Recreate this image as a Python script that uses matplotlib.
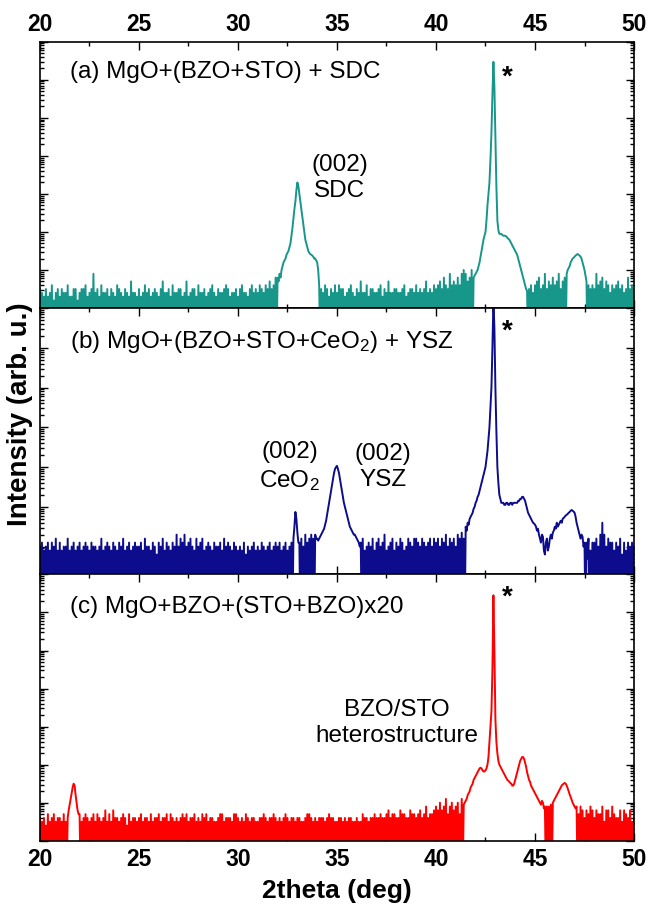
import numpy as np
import matplotlib
matplotlib.use("Agg")
import matplotlib.pyplot as plt

plt.rcParams["font.family"] = ["Liberation Sans", "DejaVu Sans"]
plt.rcParams["mathtext.fontset"] = "custom"
plt.rcParams["mathtext.rm"] = "Liberation Sans"
plt.rcParams["mathtext.default"] = "regular"

# 2theta sampling, 20..50 deg in 0.05 deg steps
two_theta = np.linspace(20.0, 50.0, 601)

# log10(intensity), one row per degree (-1 = zero counts, below axis)
log_a = [
    0.5, -1, 0.4, -1, 0.3, -1, 0.5, -1, 0.3, -1, 0.4, -1, 0.6, -1, 0.2, -1, 0.4, -1, 0.5, -1,
    0.3, -1, 0.5, -1, 0.4, -1, 0.4, -1, 0.6, -1, 0.3, -1, 0.3, -1, 0.5, -1, 0.5, -1, 0.2, -1,
    0.4, -1, 0.5, -1, 0.5, -1, 0.6, -1, 0.3, -1, 0.4, -1, 0.5, -1, 0.9, -1, 0.4, -1, 0.5, -1,
    0.3, -1, 0.6, -1, 0.4, -1, 0.4, -1, 0.5, -1, 0.3, -1, 0.5, -1, 0.4, -1, 0.3, -1, 0.6, -1,
    0.5, -1, 0.4, -1, 0.3, -1, 0.5, -1, 0.4, -1, 0.3, -1, 0.7, -1, 0.4, -1, 0.4, -1, 0.3, -1,
    0.5, -1, 0.3, -1, 0.4, -1, 0.6, -1, 0.4, -1, 0.5, -1, 0.3, -1, 0.4, -1, 0.5, -1, 0.4, -1,
    0.3, -1, 0.5, -1, 0.7, -1, 0.4, -1, 0.4, -1, 0.5, -1, 0.3, -1, 0.6, -1, 0.4, -1, 0.4, -1,
    0.5, -1, 0.5, -1, 0.3, -1, 0.4, -1, 0.7, -1, 0.3, -1, 0.4, -1, 0.5, -1, 0.5, -1, 0.3, -1,
    0.6, -1, 0.4, -1, 0.4, -1, 0.5, -1, 0.3, -1, 0.4, -1, 0.5, -1, 0.6, -1, 0.4, -1, 0.3, -1,
    0.5, -1, 0.4, -1, 0.4, -1, 0.5, -1, 0.6, -1, 0.5, -1, 0.3, -1, 0.4, -1, 0.4, -1, 0.5, -1,
    0.3, -1, 0.5, -1, 0.6, -1, 0.4, -1, 0.4, -1, 0.3, -1, 0.5, -1, 0.6, -1, 0.4, -1, 0.5, -1,
    0.4, -1, 0.6, -1, 0.5, -1, 0.4, -1, 0.6, -1, 0.5, -1, 0.7, -1, 0.5, -1, 0.6, -1, 0.8, -1,
    0.8, 0.7, 0.9, 0.8, 1.0, 1.1, 1.2, 1.25, 1.3, 1.4, 1.45, 1.5, 1.6, 1.7, 1.9, 2.1, 2.35, 2.6, 2.8, 3.1,
    3.3, 3.2, 3.0, 2.8, 2.6, 2.4, 2.2, 2.0, 1.8, 1.7, 1.6, 1.5, 1.45, 1.42, 1.4, 1.38, 1.35, 1.3, 1.3, 1.25,
    1.2, 1.0, 0.6, -1, 0.5, -1, 0.4, -1, 0.6, -1, 0.5, -1, 0.3, -1, 0.5, -1, 0.4, -1, 0.6, -1,
    0.4, -1, 0.6, -1, 0.5, -1, 0.5, -1, 0.3, -1, 0.4, -1, 0.5, -1, 0.6, -1, 0.4, -1, 0.3, -1,
    0.5, -1, 0.4, -1, 0.7, -1, 0.4, -1, 0.4, -1, 0.6, -1, 0.3, -1, 0.5, -1, 0.5, -1, 0.4, -1,
    0.4, -1, 0.5, -1, 0.6, -1, 0.3, -1, 0.5, -1, 0.4, -1, 0.7, -1, 0.4, -1, 0.4, -1, 0.5, -1,
    0.5, -1, 0.4, -1, 0.4, -1, 0.5, -1, 0.6, -1, 0.3, -1, 0.4, -1, 0.5, -1, 0.5, -1, 0.4, -1,
    0.6, -1, 0.4, -1, 0.5, -1, 0.4, -1, 0.5, -1, 0.7, -1, 0.4, -1, 0.5, -1, 0.4, -1, 0.6, -1,
    0.5, -1, 0.6, -1, 0.7, -1, 0.5, -1, 0.8, -1, 0.6, -1, 0.5, -1, 0.9, -1, 0.6, -1, 0.7, -1,
    0.6, -1, 0.8, -1, 0.6, -1, 0.9, -1, 1.0, -1, 0.9, -1, 0.7, -1, 0.8, -1, 1.0, -1, 0.8, 0.85,
    0.9, 0.95, 1.0, 1.1, 1.2, 1.35, 1.5, 1.65, 1.8, 1.9, 2.0, 2.3, 2.7, 3.0, 3.3, 3.9, 4.6, 5.6, 6.47, 5.8,
    4.5, 3.2, 2.3, 2.05, 1.95, 1.95, 1.95, 1.92, 1.9, 1.9, 1.9, 1.88, 1.85, 1.82, 1.8, 1.75, 1.7, 1.65, 1.6, 1.55,
    1.5, 1.45, 1.4, 1.3, 1.2, 1.1, 1.0, 0.9, 0.8, 0.7, 0.6, 0.5, 0.45, -1, 0.5, -1, 0.6, -1, 0.4, -1,
    0.6, -1, 0.7, -1, 0.8, -1, 0.5, -1, 0.6, -1, 0.9, -1, 0.5, -1, 0.7, -1, 0.6, -1, 0.8, -1,
    0.6, -1, 0.7, -1, 0.9, -1, 0.5, -1, 0.7, -1, 0.8, -1, 0.9, 1.0, 1.05, 1.1, 1.2, 1.25, 1.3, 1.32,
    1.35, 1.38, 1.4, 1.42, 1.4, 1.38, 1.35, 1.3, 1.2, 1.1, 1.0, 0.85, 0.7, -1, 0.6, -1, 0.5, -1, 0.6, -1,
    0.5, -1, 0.9, -1, 0.6, -1, 0.7, -1, 0.8, -1, 0.5, -1, 0.7, -1, 0.6, -1, 0.4, -1, 0.6, -1,
    0.5, -1, 0.6, -1, 0.7, -1, 0.5, -1, 0.6, -1, 0.4, -1, 0.5, -1, 0.8, -1, 0.5, -1, 0.6, -1,
    0.5,
]

log_b = [
    1.0, -1, 1.1, -1, 0.9, -1, 1.0, -1, 1.1, -1, 0.9, -1, 1.1, -1, 1.0, -1, 1.2, -1, 0.9, -1,
    1.1, -1, 0.9, -1, 1.0, -1, 1.0, -1, 1.2, -1, 0.9, -1, 1.0, -1, 1.1, -1, 0.9, -1, 1.0, -1,
    1.1, -1, 0.9, -1, 1.0, -1, 1.1, -1, 1.0, -1, 0.9, -1, 1.1, -1, 1.0, -1, 1.0, -1, 0.9, -1,
    1.0, -1, 1.2, -1, 0.9, -1, 1.0, -1, 1.1, -1, 1.0, -1, 0.9, -1, 1.1, -1, 1.0, -1, 0.9, -1,
    1.1, -1, 1.0, -1, 1.2, -1, 0.9, -1, 1.0, -1, 1.1, -1, 0.9, -1, 1.0, -1, 1.1, -1, 1.0, -1,
    1.0, -1, 1.1, -1, 0.9, -1, 1.2, -1, 1.0, -1, 1.0, -1, 0.9, -1, 1.1, -1, 1.0, -1, 0.8, -1,
    1.1, -1, 1.0, -1, 1.2, -1, 0.9, -1, 1.1, -1, 1.0, -1, 0.9, -1, 1.1, -1, 1.0, -1, 1.3, -1,
    1.0, -1, 1.2, -1, 1.1, -1, 1.3, -1, 1.0, -1, 1.1, -1, 1.2, -1, 1.0, -1, 0.9, -1, 1.2, -1,
    1.0, -1, 1.1, -1, 1.2, -1, 0.9, -1, 1.0, -1, 1.1, -1, 1.0, -1, 0.9, -1, 1.1, -1, 1.0, -1,
    1.0, -1, 1.1, -1, 0.9, -1, 1.2, -1, 1.0, -1, 1.1, -1, 1.0, -1, 0.9, -1, 1.1, -1, 1.0, -1,
    0.9, -1, 1.0, -1, 0.9, -1, 1.1, -1, 0.8, -1, 1.0, -1, 0.9, -1, 1.0, -1, 1.1, -1, 0.9, -1,
    1.0, -1, 0.9, -1, 1.1, -1, 1.0, -1, 0.9, -1, 1.0, -1, 1.1, -1, 0.9, -1, 1.0, -1, 1.1, -1,
    1.0, -1, 1.1, -1, 0.9, -1, 1.0, -1, 1.1, -1, 0.9, -1, 1.0, -1, 1.1, -1, 1.2, 1.5, 1.87, 1.7,
    1.35, 1.1, 1.1, -1, 1.2, -1, 1.0, -1, 1.3, -1, 1.1, -1, 1.2, -1, 1.3, -1, 1.2, -1, 1.3, 1.2,
    1.2, 1.15, 1.2, 1.25, 1.3, 1.35, 1.4, 1.45, 1.55, 1.65, 1.8, 1.95, 2.1, 2.25, 2.4, 2.55, 2.7, 2.85, 2.95, 3.0,
    3.03, 2.95, 2.85, 2.7, 2.55, 2.4, 2.25, 2.1, 2.0, 1.9, 1.8, 1.7, 1.6, 1.5, 1.45, 1.4, 1.35, 1.3, 1.3, 1.25,
    1.2, 1.15, 1.1, 1.0, 1.1, -1, 1.2, -1, 0.9, -1, 1.0, -1, 1.1, -1, 1.0, -1, 1.2, -1, 0.9, -1,
    1.1, -1, 1.2, -1, 1.0, -1, 1.1, -1, 1.3, -1, 0.9, -1, 1.0, -1, 1.1, -1, 1.2, -1, 0.9, -1,
    1.1, -1, 1.0, -1, 1.2, -1, 1.1, -1, 0.9, -1, 1.0, -1, 1.2, -1, 1.1, -1, 1.0, -1, 1.2, -1,
    1.2, -1, 1.1, -1, 1.0, -1, 1.2, -1, 1.1, -1, 1.0, -1, 1.1, -1, 1.2, -1, 1.0, -1, 1.2, -1,
    1.1, -1, 1.2, -1, 1.0, -1, 1.2, -1, 1.1, -1, 1.3, -1, 1.0, -1, 1.2, -1, 1.1, -1, 1.2, -1,
    1.0, -1, 1.3, -1, 1.2, -1, 1.35, -1, 1.2, -1, 1.5, 1.4, 1.6, 1.55, 1.7, 1.75, 1.8, 1.85, 1.95, 2.0,
    2.1, 2.15, 2.25, 2.3, 2.4, 2.5, 2.6, 2.7, 2.8, 2.9, 3.0, 3.2, 3.4, 3.7, 4.0, 4.5, 5.0, 6.0, 7.2, 6.5,
    5.0, 3.9, 3.0, 2.6, 2.3, 2.2, 2.1, 2.1, 2.1, 2.05, 2.05, 2.1, 2.1, 2.05, 2.05, 2.1, 2.1, 2.05, 2.1, 2.1,
    2.1, 2.1, 2.1, 2.15, 2.15, 2.2, 2.2, 2.25, 2.25, 2.2, 2.15, 2.05, 1.95, 1.85, 1.8, 1.75, 1.7, 1.65, 1.6, 1.58,
    1.55, 1.5, 1.4, 1.45, 1.3, 1.2, 1.1, 1.3, 1.25, 0.9, 0.8, 1.1, 1.2, 0.9, 1.0, 1.2, 1.3, 1.2, 1.35, 1.4,
    1.5, 1.45, 1.6, 1.5, 1.55, 1.6, 1.65, 1.6, 1.7, 1.72, 1.75, 1.78, 1.8, 1.82, 1.85, 1.87, 1.9, 1.92, 1.9, 1.88,
    1.85, 1.75, 1.6, 1.5, 1.4, 1.3, 1.2, 1.3, 1.25, 1.0, 1.1, -1, 1.1, 0.7, 1.2, -1, 0.9, -1, 1.1, -1,
    1.1, -1, 1.2, -1, 1.0, -1, 1.3, -1, 1.6, -1, 1.3, -1, 1.0, -1, 1.2, -1, 1.1, -1, 1.1, -1,
    0.9, -1, 1.1, -1, 1.0, -1, 1.2, -1, 0.8, -1, 1.1, -1, 0.9, -1, 1.1, -1, 1.0, -1, 1.1, -1,
    1.0,
]

log_c = [
    0.6, -1, 0.5, -1, 0.6, -1, 0.4, -1, 0.7, -1, 0.5, -1, 0.6, -1, 0.7, -1, 0.5, -1, 0.6, -1,
    0.6, -1, 0.5, -1, 0.7, -1, 0.5, -1, 0.6, 0.8, 0.95, 1.1, 1.25, 1.4, 1.5, 1.45, 1.2, 1.0, 0.8, 0.7,
    0.7, -1, 0.5, -1, 0.6, -1, 0.7, -1, 0.6, -1, 0.5, -1, 0.6, -1, 0.7, -1, 0.5, -1, 0.7, -1,
    0.6, -1, 0.5, -1, 0.6, -1, 0.8, -1, 0.5, -1, 0.7, -1, 0.5, -1, 0.8, -1, 0.6, -1, 0.6, -1,
    0.5, -1, 0.6, -1, 0.7, -1, 0.6, -1, 0.4, -1, 0.7, -1, 0.5, -1, 0.6, -1, 0.6, -1, 0.5, -1,
    0.6, -1, 0.7, -1, 0.5, -1, 0.6, -1, 0.6, -1, 0.5, -1, 0.7, -1, 0.5, -1, 0.6, -1, 0.6, -1,
    0.7, -1, 0.5, -1, 0.6, -1, 0.6, -1, 0.7, -1, 0.5, -1, 0.7, -1, 0.6, -1, 0.5, -1, 0.6, -1,
    0.5, -1, 0.6, -1, 0.7, -1, 0.6, -1, 0.7, -1, 0.5, -1, 0.6, -1, 0.6, -1, 0.7, -1, 0.5, -1,
    0.6, -1, 0.5, -1, 0.7, -1, 0.6, -1, 0.7, -1, 0.5, -1, 0.6, -1, 0.6, -1, 0.5, -1, 0.5, -1,
    0.6, -1, 0.7, -1, 0.7, -1, 0.5, -1, 0.6, -1, 0.6, -1, 0.6, -1, 0.5, -1, 0.7, -1, 0.7, -1,
    0.6, -1, 0.5, -1, 0.6, -1, 0.5, -1, 0.7, -1, 0.6, -1, 0.5, -1, 0.6, -1, 0.6, -1, 0.5, -1,
    0.5, -1, 0.6, -1, 0.6, -1, 0.7, -1, 0.6, -1, 0.5, -1, 0.6, -1, 0.6, -1, 0.7, -1, 0.6, -1,
    0.5, -1, 0.6, -1, 0.5, -1, 0.6, -1, 0.7, -1, 0.6, -1, 0.5, -1, 0.6, -1, 0.6, -1, 0.5, -1,
    0.6, -1, 0.6, -1, 0.5, -1, 0.5, -1, 0.6, -1, 0.7, -1, 0.7, -1, 0.6, -1, 0.5, -1, 0.6, -1,
    0.5, -1, 0.6, -1, 0.6, -1, 0.6, -1, 0.5, -1, 0.6, -1, 0.7, -1, 0.6, -1, 0.6, -1, 0.5, -1,
    0.5, -1, 0.6, -1, 0.6, -1, 0.5, -1, 0.6, -1, 0.5, -1, 0.6, -1, 0.6, -1, 0.5, -1, 0.5, -1,
    0.6, -1, 0.5, -1, 0.5, -1, 0.7, -1, 0.6, -1, 0.6, -1, 0.5, -1, 0.6, -1, 0.6, -1, 0.7, -1,
    0.6, -1, 0.6, -1, 0.7, -1, 0.6, -1, 0.6, -1, 0.7, -1, 0.8, -1, 0.6, -1, 0.7, -1, 0.7, -1,
    0.6, -1, 0.6, -1, 0.8, -1, 0.7, -1, 0.7, -1, 0.6, -1, 0.6, -1, 0.8, -1, 0.7, -1, 0.7, -1,
    0.6, -1, 0.7, -1, 0.8, -1, 0.6, -1, 0.7, -1, 0.9, -1, 0.6, -1, 0.7, -1, 0.7, -1, 0.8, -1,
    0.9, -1, 0.8, -1, 1.0, -1, 0.8, -1, 0.9, -1, 1.1, -1, 0.7, -1, 0.9, -1, 1.0, -1, 0.8, -1,
    0.9, -1, 1.0, -1, 0.7, -1, 1.1, -1, 0.95, 1.0, 1.05, 1.1, 1.2, 1.25, 1.3, 1.4, 1.45, 1.5, 1.6, 1.65,
    1.7, 1.75, 1.8, 1.85, 1.9, 1.92, 1.9, 1.85, 1.82, 1.82, 1.85, 1.9, 2.0, 2.2, 2.6, 3.0, 3.4, 4.5, 6.45, 5.0,
    3.2, 2.6, 2.3, 2.1, 2.0, 1.95, 1.9, 1.85, 1.8, 1.75, 1.7, 1.65, 1.6, 1.58, 1.55, 1.52, 1.5, 1.45, 1.45, 1.5,
    1.6, 1.7, 1.8, 1.9, 2.0, 2.1, 2.15, 2.2, 2.2, 2.15, 2.05, 1.95, 1.8, 1.7, 1.6, 1.55, 1.45, 1.4, 1.35, 1.3,
    1.25, 1.2, 1.15, 1.1, 1.05, 1.0, 0.95, 1.05, 1.0, 0.85, 0.9, -1, 0.9, -1, 0.9, -1, 0.95, -1, 1.0, 1.05,
    1.1, 1.15, 1.2, 1.25, 1.3, 1.35, 1.4, 1.45, 1.48, 1.5, 1.52, 1.5, 1.45, 1.38, 1.3, 1.22, 1.15, 1.08, 1.0, 0.95,
    0.9, 0.85, 0.9, -1, 0.7, -1, 0.9, -1, 0.8, -1, 0.6, -1, 0.8, -1, 0.7, -1, 0.9, -1, 0.8, -1,
    0.6, -1, 0.8, -1, 0.7, -1, 0.7, -1, 0.9, -1, 0.5, -1, 0.8, -1, 0.8, -1, 0.6, -1, 0.9, -1,
    0.7, -1, 0.6, -1, 0.6, -1, 0.8, -1, 0.5, -1, 0.8, -1, 0.7, -1, 0.6, -1, 0.8, -1, 0.5, -1,
    0.6,
]

colors = ["#17968a", "#0c0c8c", "#ff0000"]
ylims = [(1, 1e7), (10 ** 0.3, 1e7), (1, 1e7)]
labels = [
    "(a) MgO+(BZO+STO) + SDC",
    "(b) MgO+(BZO+STO+CeO$_2$) + YSZ",
    "(c) MgO+BZO+(STO+BZO)x20",
]
label_y = [6.2, 6.15, 6.15]
star_y = [6.05, 6.4, 6.4]

fig = plt.figure(figsize=(6.52, 9.06), dpi=100)
gs = fig.add_gridspec(3, 1, left=0.0613, right=0.9724, top=0.954, bottom=0.072, hspace=0)
axes = [fig.add_subplot(gs[i]) for i in range(3)]

for ax, logs, col, lim, lab, ly, sy in zip(axes, [log_a, log_b, log_c], colors, ylims,
                                            labels, label_y, star_y):
    ax.plot(two_theta, 10.0 ** np.array(logs), color=col, lw=1.4)
    ax.set_yscale("log")
    ax.set_ylim(*lim)
    ax.set_xlim(20, 50)
    ax.set_xticks(np.arange(20, 51, 5))
    ax.set_xticks(np.arange(22.5, 50, 5), minor=True)
    ax.tick_params(which="both", direction="in", top=True, right=True,
                   labelbottom=False, labelleft=False, width=1.0)
    ax.tick_params(which="major", length=6)
    ax.tick_params(which="minor", length=3)
    ax.yaxis.set_minor_formatter(plt.NullFormatter())
    ax.text(21.5, 10 ** ly, lab, fontsize=17.5, va="center")
    ax.text(43.6, 10 ** sy, "*", fontsize=20, fontweight="bold", ha="center", va="center")
    for s in ax.spines.values():
        s.set_linewidth(1.2)

axes[0].tick_params(labeltop=True, pad=4)
axes[2].tick_params(labelbottom=True, pad=5)
for ax in (axes[0], axes[2]):
    for t in ax.get_xticklabels():
        t.set_fontweight("bold")
        t.set_fontsize(16.5)

# peak annotations
axes[0].text(35.15, 10 ** 3.42, "(002)\nSDC", fontsize=17.5, ha="center", va="center", linespacing=1.25)
axes[1].text(32.6, 10 ** 3.0, "(002)\nCeO$_2$", fontsize=17.5, ha="center", va="center", linespacing=1.25)
axes[1].text(37.3, 10 ** 3.0, "(002)\nYSZ", fontsize=17.5, ha="center", va="center", linespacing=1.25)
axes[2].text(38.0, 10 ** 3.1, "BZO/STO\nheterostructure", fontsize=17.5, ha="center", va="center", linespacing=1.25)

fig.text(0.031, 0.543, "Intensity (arb. u.)", rotation=90, fontsize=20, fontweight="bold",
         ha="center", va="center")
axes[2].set_xlabel("2theta (deg)", fontsize=19, fontweight="bold", labelpad=6)

fig.savefig("out.png", dpi=100)
